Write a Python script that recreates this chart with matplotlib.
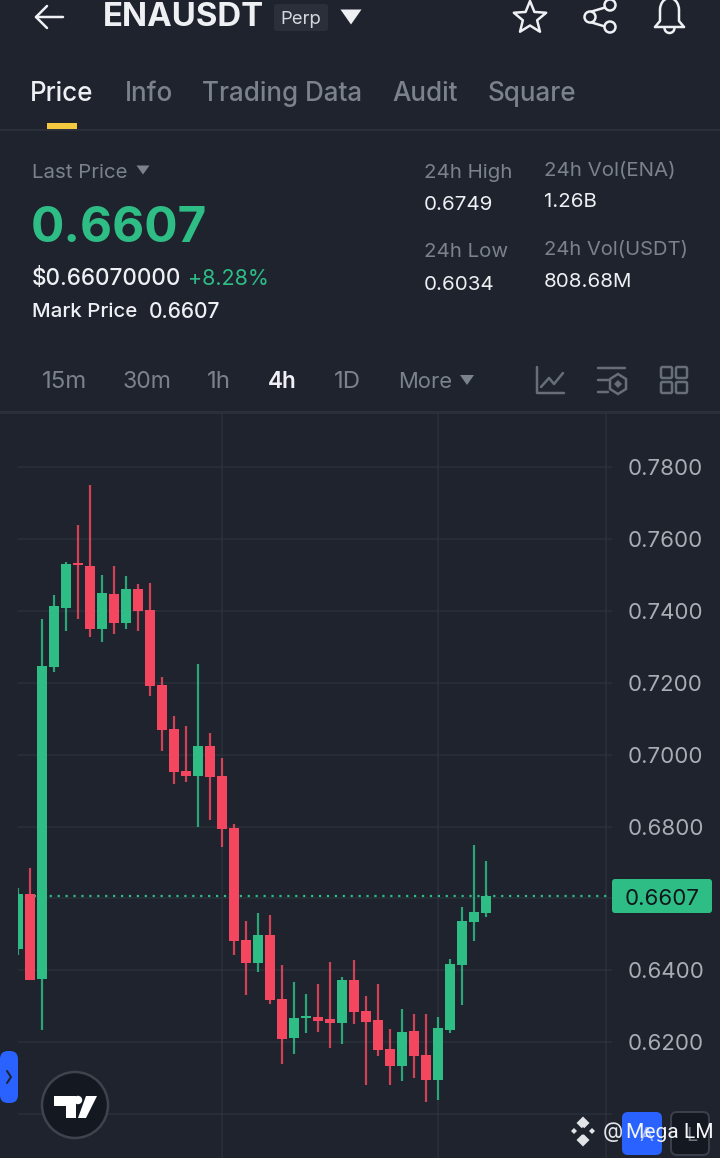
import math
import matplotlib
matplotlib.use("Agg")
import matplotlib.pyplot as plt
from matplotlib.patches import FancyBboxPatch, Circle, Polygon, Rectangle, Arc

plt.rcParams['font.family'] = ['Inter', 'DejaVu Sans']

# ---- data: price per 4h candle -------------------------------------
highs = [.6629,.6685,.7377,.7444,.7536,.7639,.7750,.7500,.7525,.7497,.7475,.7477,.7216,.7107,.7080,.7252,.7060,.6991,.6807,.6537,.6559,.6554,.6415,.6368,.6334,.6362,.6423,.6381,.6429,.6329,.6362,.6237,.6292,.6278,.6278,.6270,.6431,.6576,.6749,.6704]
opens = [.6459,.6612,.6376,.7244,.7408,.7533,.7525,.7349,.7447,.7366,.7461,.7402,.7194,.7071,.6954,.6941,.7024,.6941,.6796,.6484,.6420,.6498,.6320,.6212,.6267,.6270,.6265,.6253,.6373,.6287,.6262,.6181,.6134,.6231,.6164,.6095,.6234,.6415,.6534,.6559]
closes = [.6612,.6373,.7246,.7413,.7530,.7527,.7349,.7450,.7366,.7461,.7399,.7191,.7068,.6952,.6941,.7024,.6938,.6793,.6482,.6420,.6498,.6317,.6209,.6267,.6273,.6259,.6253,.6373,.6284,.6256,.6178,.6134,.6228,.6162,.6095,.6240,.6418,.6537,.6562,.6607]
lows = [.6443,.6373,.6234,.7230,.7344,.7377,.7327,.7313,.7335,.7349,.7344,.7163,.7010,.6918,.6924,.6799,.6818,.6743,.6443,.6331,.6395,.6306,.6139,.6167,.6226,.6228,.6184,.6195,.6251,.6081,.6162,.6081,.6092,.6100,.6034,.6039,.6226,.6304,.6482,.6548]
price_ticks = [0.78, 0.76, 0.74, 0.72, 0.70, 0.68, 0.66, 0.64, 0.62, 0.60]
shown_labels = ['0.7800', '0.7600', '0.7400', '0.7200', '0.7000', '0.6800', '', '0.6400', '0.6200', '']
last_price = 0.6607
tabs = ['Price', 'Info', 'Trading Data', 'Audit', 'Square']
intervals = ['15m', '30m', '1h', '4h', '1D', 'More']

# ---- colours -------------------------------------------------------
BG = '#1e232e'
GREEN = '#2ebd85'
RED = '#f4475f'
GRID = '#2b313b'
MUTED = '#7c828c'
WHITE = '#eef0f4'
W, H = 720, 1158
PT = 72 / 100

fig = plt.figure(figsize=(W / 100, H / 100), dpi=100, facecolor=BG)

# ---- chart ----------------------------------------------------------
left, right, top, bottom = 18, 612, 412, 1158
ax = fig.add_axes([left / W, 1 - bottom / H, (right - left) / W, (bottom - top) / H], facecolor=BG)
per_px = 0.02 / 71.9
ax.set_ylim(0.78 - (bottom - 467) * per_px, 0.78 + (467 - top) * per_px)
ax.set_xlim(0, (right - left) / 12)
for s in ax.spines.values():
    s.set_visible(False)
ax.set_yticks(price_ticks)
ax.set_yticklabels(shown_labels)
ax.yaxis.tick_right()
ax.tick_params(axis='y', length=0, pad=11.5, labelsize=16, labelcolor='#a9adb4')
ax.set_xticks([17, 35, 49])
ax.set_xticklabels([])
ax.tick_params(axis='x', length=0)
ax.grid(True, color=GRID, lw=1.5 * PT)
ax.set_axisbelow(True)
ax.axhline(last_price, color=GREEN, lw=2.2 * PT, ls=(0, (1, 2.6)), zorder=1.5)
for i, (h, o, c, l) in enumerate(zip(highs, opens, closes, lows)):
    col = GREEN if c >= o else RED
    ax.vlines(i, l, h, color=col, lw=2.2 * PT, alpha=.85, zorder=2)
    lo, hi = min(o, c), max(o, c)
    ax.bar(i, hi - lo, bottom=lo, width=10 / 12, color=col, zorder=3)

# ---- chrome, in pixel coordinates ------------------------------------
ov = fig.add_axes([0, 0, 1, 1], facecolor='none')
ov.set_xlim(0, W)
ov.set_ylim(H, 0)
ov.axis('off')

def t(x, y, s, px, color=WHITE, weight='normal', ha='left'):
    ov.text(x, y + 2, s, fontsize=px * PT, color=color, fontweight=weight, ha=ha, va='center')

def ln(xs, ys, color=WHITE, lw=2.5):
    ov.plot(xs, ys, color=color, lw=lw * PT, solid_capstyle='round', solid_joinstyle='round')

def tri(cx, cy, w, h, color):
    ov.add_patch(Polygon([(cx - w / 2, cy - h / 2), (cx + w / 2, cy - h / 2), (cx, cy + h / 2)], color=color, lw=0))

def rbox(x0, y0, x1, y1, r, fc, ec='none', lw=0):
    ov.add_patch(FancyBboxPatch((x0 + r, y0 + r), x1 - x0 - 2 * r, y1 - y0 - 2 * r,
                                boxstyle=f'round,pad={r},rounding_size={r}', fc=fc, ec=ec, lw=lw * PT))

# header
ln([36, 63], [17, 17]); ln([47, 36, 47], [6, 17, 28])
t(103, 15, 'ENAUSDT', 33, WHITE, 'bold')
rbox(274, 4, 328, 31, 3, '#2a2f3a')
t(301, 17, 'Perp', 18.5, '#d5d8de', ha='center')
tri(351, 17, 21, 15, WHITE)
# star
pts = []
for k in range(10):
    r = 17 if k % 2 == 0 else 7.5
    a = -math.pi / 2 + k * math.pi / 5
    pts.append((530 + r * math.cos(a), 18 + r * math.sin(a)))
ov.add_patch(Polygon(pts, closed=True, fc='none', ec=WHITE, lw=2.5 * PT, joinstyle='round'))
# share
ln([590, 610], [12, 6]); ln([590, 610], [22, 28])
for cx, cy in [(590, 17), (610, 5), (610, 27)]:
    ov.add_patch(Circle((cx, cy), 5.5, fc=BG, ec=WHITE, lw=2.5 * PT, zorder=3))
# bell
ln([655, 660, 660], [27, 21, 10], lw=2.5)
ln([684, 679, 679], [27, 21, 10], lw=2.5)
ov.add_patch(Arc((669.5, 10), 19, 24, theta1=180, theta2=360, ec=WHITE, lw=2.5 * PT))
ln([655, 684], [27, 27]); ov.add_patch(Arc((669.5, 28), 10, 10, theta1=0, theta2=180, ec=WHITE, lw=2.5 * PT))

# tabs
for x, s, c in zip([30, 125, 202, 392, 488], tabs, [WHITE] + ['#7c828c'] * 4):
    t(x, 92, s, 26, c, 'medium')
ov.add_patch(Rectangle((47, 123), 30, 6, color='#f5c93f', lw=0))
ln([0, 720], [129.5, 129.5], '#2f343e', 1.5)

# price block
t(32, 171, 'Last Price', 20.5, MUTED)
tri(143, 170, 13, 9, MUTED)
t(31, 227, '0.6607', 49.5, GREEN, 'bold')
t(32, 277, '$0.66070000', 22.5, WHITE, 'medium')
t(188, 277, '+8.28%', 21.5, GREEN)
t(32, 310, 'Mark Price', 20.5, WHITE, 'medium')
t(149, 310, '0.6607', 21, WHITE, 'medium')
t(424, 171, '24h High', 20.5, MUTED)
t(424, 203, '0.6749', 20.5, WHITE)
t(424, 250, '24h Low', 20.5, MUTED)
t(424, 283, '0.6034', 20.5, WHITE)
t(544, 169, '24h Vol(ENA)', 20.5, MUTED)
t(544, 200, '1.26B', 20.5, WHITE)
t(544, 248, '24h Vol(USDT)', 20.2, MUTED)
t(544, 280, '808.68M', 20.5, WHITE)

# interval row
for x, s, c, w, px in zip([42, 123, 207, 268, 334, 398], intervals,
                          [MUTED, MUTED, MUTED, WHITE, MUTED, MUTED],
                          ['normal', 'normal', 'normal', 'semibold', 'normal', 'normal'],
                          [24, 23, 24, 22.5, 24, 22]):
    t(x, 380, s, px, c, w)
tri(467, 380, 14, 10, MUTED)
ICON = '#686e78'
ln([537, 537, 564], [367, 393, 393], ICON); ln([541, 549, 554, 563], [387, 378, 384, 373], ICON)
ln([598, 625], [368, 368], ICON); ln([598, 608], [380, 380], ICON); ln([598, 608], [392, 392], ICON)
ov.add_patch(Polygon([(618, 374), (626, 379), (626, 389), (618, 394), (610, 389), (610, 379)], fc='none', ec=ICON, lw=2.5 * PT))
ov.add_patch(Polygon([(618, 380), (622, 384), (618, 388), (614, 384)], color=ICON, lw=0))
for x0, y0 in [(661, 367), (676, 367), (661, 382), (676, 382)]:
    rbox(x0, y0, x0 + 11, y0 + 11, 1.5, 'none', ICON, 2.5)
ln([0, 720], [411.5, 411.5], '#2a2f39', 3)

# last price tag
rbox(612, 879, 712, 913, 3, GREEN)
ov.text(625, 899, '0.6607', fontsize=16, color='#10151c', ha='left', va='center')

# side tab and logo
rbox(0, 1051, 18, 1103, 8, '#2962ff')
ln([7, 11, 7], [1071, 1077, 1083], '#1e232e', 2)
ov.add_patch(Circle((75, 1105), 33, fc='#141821', ec='#3e434d', lw=2.5 * PT))
ov.add_patch(Polygon([(54, 1096), (76, 1096), (76, 1118), (66, 1118), (66, 1106), (54, 1106)], color='white', lw=0))
ov.add_patch(Circle((78, 1100), 4.2, color='white', lw=0))
ov.add_patch(Polygon([(86, 1096), (97, 1096), (86, 1118), (78, 1118)], color='white', lw=0))

# watermark and bottom buttons
rbox(622, 1112, 662, 1155, 6, '#2962ff')
rbox(671, 1112, 709, 1155, 6, '#141821', '#3a3f49', 2)
t(646, 1134, 'A', 20, '#9db4ff', ha='center')
t(692, 1134, 'L', 20, '#6f747c', ha='center')
for cx, cy, r in [(583, 1123, 6.5), (574, 1131, 3), (592, 1131, 3), (583, 1140, 6.5)]:
    ov.add_patch(Polygon([(cx - r, cy), (cx, cy - r), (cx + r, cy), (cx, cy + r)], color='#e2e4e8', lw=0))
ov.add_patch(Polygon([(583, 1127), (587, 1131), (583, 1135), (579, 1131)], color=BG, lw=0))
t(603, 1130, '@', 21, '#e2e4e8')
ov.text(626, 1132, 'Mega LM', fontsize=21 * PT, color='#f4f5f7', family='Roboto', ha='left', va='center')

fig.savefig('out.png', dpi=100, facecolor=BG)
